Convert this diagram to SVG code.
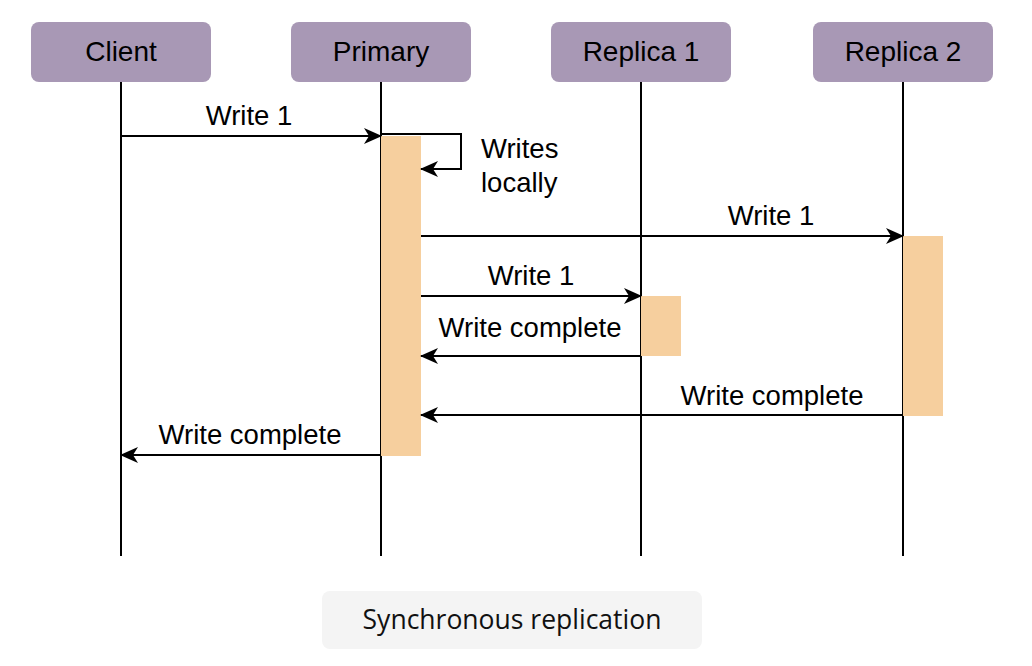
<svg xmlns="http://www.w3.org/2000/svg" width="1032" height="666" viewBox="0 0 1032 666">
<style>
.box{fill:#a898b5;}
.lbl{font-family:"Liberation Sans",Arial,sans-serif;font-size:28px;fill:#000;text-anchor:middle;}
.life{stroke:#000;stroke-width:2;fill:none;}
.msg{stroke:#000;stroke-width:2;fill:none;marker-end:url(#arr);}
.act{fill:#f6cf9e;}
.t{font-family:"Liberation Sans",Arial,sans-serif;font-size:27.5px;fill:#000;}
.cap{font-family:"Open Sans","Noto Sans",sans-serif;font-size:26.5px;fill:#111;text-anchor:middle;}
</style>
<defs>
<marker id="arr" viewBox="0 0 18 16" refX="17" refY="8" markerWidth="18" markerHeight="16" markerUnits="userSpaceOnUse" orient="auto">
<path d="M0,0 L18,8 L0,16 L5,8 Z" fill="#000"/>
</marker>
</defs>
<rect width="1032" height="666" fill="#fff"/>
<g id="lifelines">
<line class="life" x1="121" y1="82" x2="121" y2="556"/>
<line class="life" x1="381" y1="82" x2="381" y2="556"/>
<line class="life" x1="641" y1="82" x2="641" y2="556"/>
<line class="life" x1="903" y1="82" x2="903" y2="556"/>
</g>
<g id="client"><rect class="box" x="31" y="22" width="180" height="60" rx="8"/><text class="lbl" x="121" y="61">Client</text></g>
<g id="primary"><rect class="box" x="291" y="22" width="180" height="60" rx="8"/><text class="lbl" x="381" y="61">Primary</text></g>
<g id="replica1"><rect class="box" x="551" y="22" width="180" height="60" rx="8"/><text class="lbl" x="641" y="61">Replica 1</text></g>
<g id="replica2"><rect class="box" x="813" y="22" width="180" height="60" rx="8"/><text class="lbl" x="903" y="61">Replica 2</text></g>
<g id="activations">
<rect class="act" x="381" y="136" width="40" height="320"/>
<rect class="act" x="641" y="296" width="40" height="60"/>
<rect class="act" x="903" y="236" width="40" height="180"/>
</g>
<g id="connectors">
<line class="msg" x1="121" y1="136" x2="381" y2="136"/>
<polyline class="msg" points="381,134 461,134 461,169 421,169"/>
<line class="msg" x1="421" y1="236" x2="903" y2="236"/>
<line class="msg" x1="421" y1="296" x2="641" y2="296"/>
<line class="msg" x1="641" y1="356" x2="421" y2="356"/>
<line class="msg" x1="903" y1="415" x2="421" y2="415"/>
<line class="msg" x1="381" y1="455" x2="121" y2="455"/>
</g>
<g id="labels">
<text class="t" x="249" y="125" text-anchor="middle">Write 1</text>
<text class="t" x="481" y="158">Writes</text>
<text class="t" x="481" y="192">locally</text>
<text class="t" x="771" y="225" text-anchor="middle">Write 1</text>
<text class="t" x="531" y="285" text-anchor="middle">Write 1</text>
<text class="t" x="530" y="337" text-anchor="middle">Write complete</text>
<text class="t" x="772" y="405" text-anchor="middle">Write complete</text>
<text class="t" x="250" y="444" text-anchor="middle">Write complete</text>
</g>
<g id="caption">
<rect x="322" y="591" width="380" height="58" rx="8" fill="#f4f4f4"/>
<text class="cap" x="512" y="629">Synchronous replication</text>
</g>
</svg>
